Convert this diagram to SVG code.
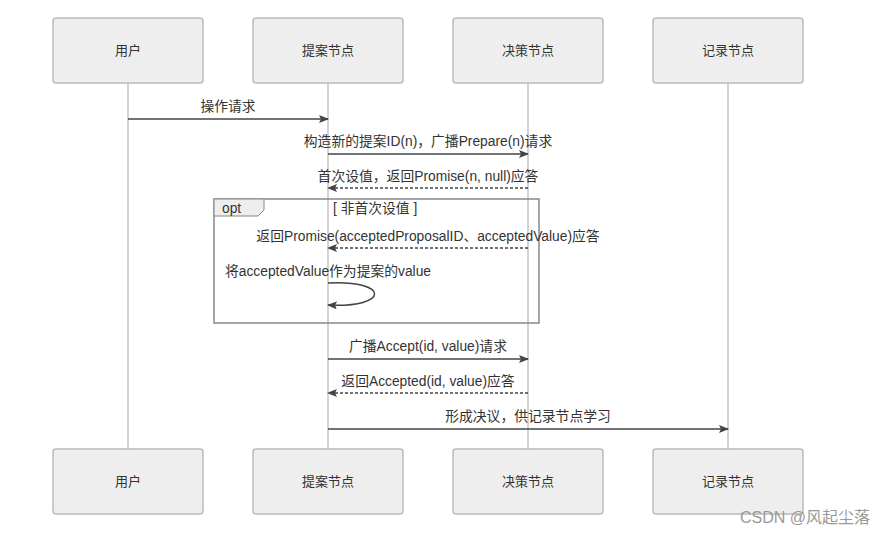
<svg xmlns="http://www.w3.org/2000/svg" width="893" height="535" viewBox="0 0 893 535">
<style>
.box{fill:#eee;stroke:#bbb;stroke-width:1.5}
.life{stroke:#d4d4d4;stroke-width:2}
.t{font-family:"Liberation Sans","Noto Sans CJK SC",sans-serif;font-size:13px;fill:#333}
.ml{font-size:13.8px}
.m{stroke:#444;stroke-width:1.5;fill:none}
.d{stroke:#444;stroke-width:1.5;fill:none;stroke-dasharray:3,2}
</style>
<defs>
<marker id="ah" markerWidth="10" markerHeight="8" refX="9" refY="4" orient="auto" markerUnits="userSpaceOnUse">
<path d="M0,0 L10,4 L0,8 L2,4 z" fill="#444"/>
</marker>
</defs>
<rect width="893" height="535" fill="#fff"/>
<g id="lifelines">
<line class="life" x1="128" y1="83" x2="128" y2="449"/>
<line class="life" x1="328" y1="83" x2="328" y2="449"/>
<line class="life" x1="528" y1="83" x2="528" y2="449"/>
<line class="life" x1="728" y1="83" x2="728" y2="449"/>
</g>
<g id="opt">
<rect x="214" y="199" width="325" height="124" fill="none" stroke="#888" stroke-width="1.5"/>
<path d="M214,199 H264 V210 L258,216 H214 Z" fill="#eee" stroke="#888" stroke-width="1"/>
<text class="t ml" x="222" y="213">opt</text>
<text class="t ml" x="333" y="213">[ 非首次设值 ]</text>
</g>
<g id="n1-top"><rect class="box" x="53" y="18" width="150" height="65" rx="3"/><text class="t" x="128" y="55" text-anchor="middle">用户</text></g>
<g id="n2-top"><rect class="box" x="253" y="18" width="150" height="65" rx="3"/><text class="t" x="328" y="55" text-anchor="middle">提案节点</text></g>
<g id="n3-top"><rect class="box" x="453" y="18" width="150" height="65" rx="3"/><text class="t" x="528" y="55" text-anchor="middle">决策节点</text></g>
<g id="n4-top"><rect class="box" x="653" y="18" width="150" height="65" rx="3"/><text class="t" x="728" y="55" text-anchor="middle">记录节点</text></g>
<g id="n1-bot"><rect class="box" x="53" y="449" width="150" height="65" rx="3"/><text class="t" x="128" y="486" text-anchor="middle">用户</text></g>
<g id="n2-bot"><rect class="box" x="253" y="449" width="150" height="65" rx="3"/><text class="t" x="328" y="486" text-anchor="middle">提案节点</text></g>
<g id="n3-bot"><rect class="box" x="453" y="449" width="150" height="65" rx="3"/><text class="t" x="528" y="486" text-anchor="middle">决策节点</text></g>
<g id="n4-bot"><rect class="box" x="653" y="449" width="150" height="65" rx="3"/><text class="t" x="728" y="486" text-anchor="middle">记录节点</text></g>
<g id="connectors">
<line class="m" x1="128" y1="119" x2="328" y2="119" marker-end="url(#ah)"/>
<text class="t ml" x="228" y="111" text-anchor="middle">操作请求</text>
<line class="m" x1="328" y1="154" x2="528" y2="154" marker-end="url(#ah)"/>
<text class="t ml" x="428" y="146" text-anchor="middle">构造新的提案ID(n)，广播Prepare(n)请求</text>
<line class="d" x1="528" y1="188" x2="328" y2="188" marker-end="url(#ah)"/>
<text class="t ml" x="428" y="181" text-anchor="middle">首次设值，返回Promise(n, null)应答</text>
<line class="d" x1="528" y1="248" x2="328" y2="248" marker-end="url(#ah)"/>
<text class="t ml" x="428" y="241" text-anchor="middle">返回Promise(acceptedProposalID、acceptedValue)应答</text>
<text class="t ml" x="225" y="276">将acceptedValue作为提案的value</text>
<path class="m" d="M328,283 C390,280 390,308 328,305" marker-end="url(#ah)"/>
<line class="m" x1="328" y1="359" x2="528" y2="359" marker-end="url(#ah)"/>
<text class="t ml" x="428" y="351" text-anchor="middle">广播Accept(id, value)请求</text>
<line class="d" x1="528" y1="393" x2="328" y2="393" marker-end="url(#ah)"/>
<text class="t ml" x="428" y="386" text-anchor="middle">返回Accepted(id, value)应答</text>
<line class="m" x1="328" y1="429" x2="728" y2="429" marker-end="url(#ah)"/>
<text class="t ml" x="528" y="421" text-anchor="middle">形成决议，供记录节点学习</text>
</g>
<text x="740" y="523" font-family="Liberation Sans,'Noto Sans CJK SC',sans-serif" font-size="16" fill="#999">CSDN @风起尘落</text>
</svg>
